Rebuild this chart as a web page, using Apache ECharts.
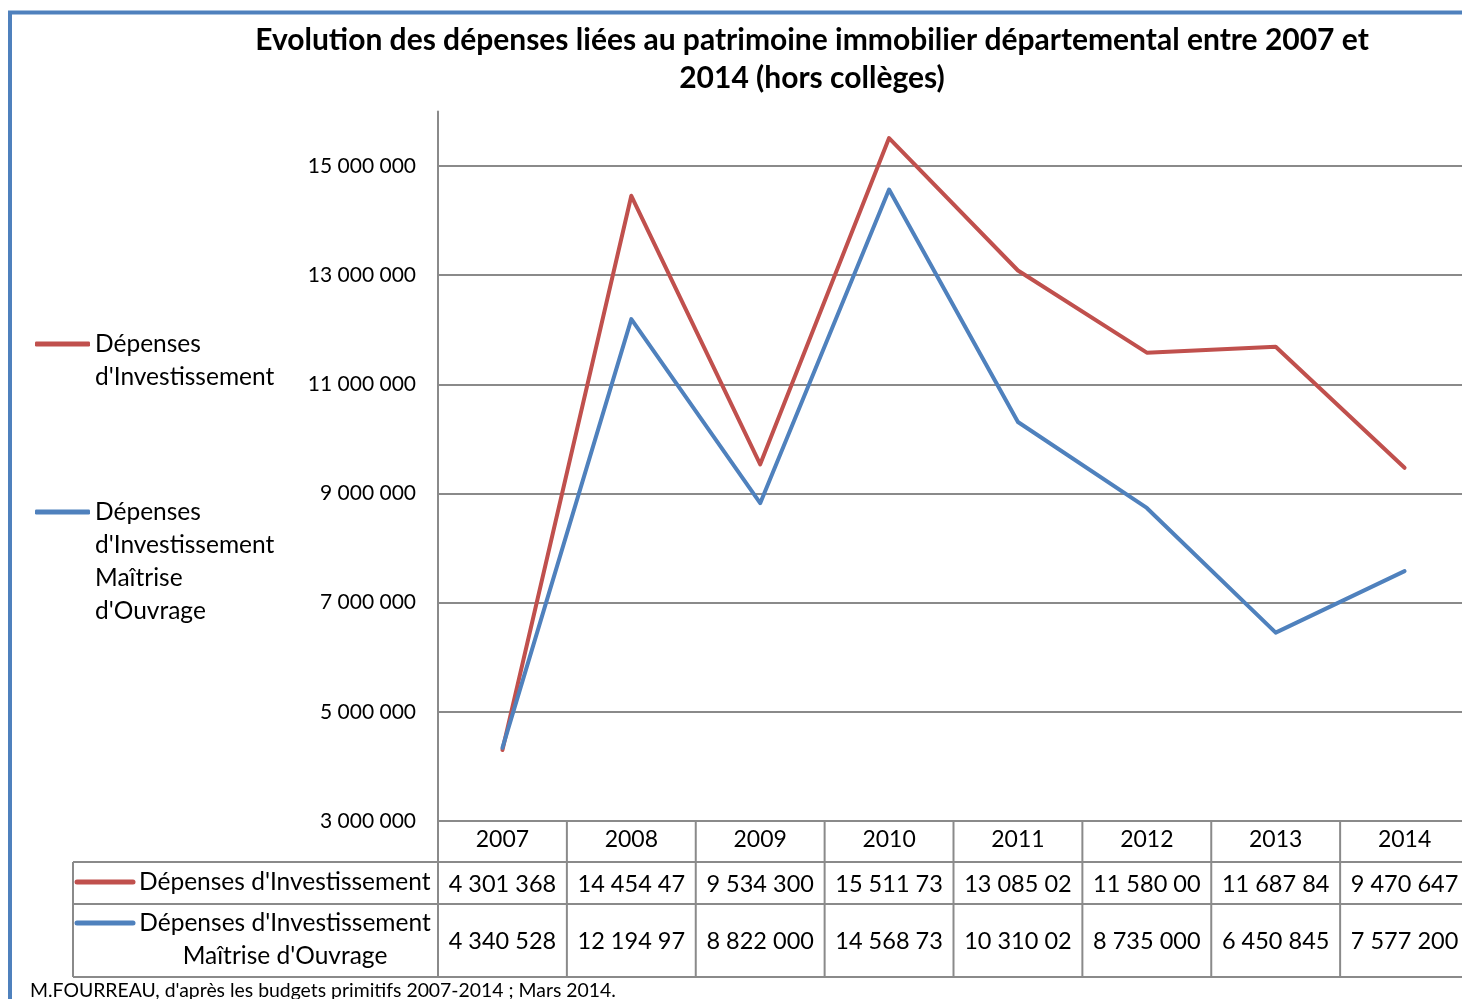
<!DOCTYPE html>
<html>
<head>
<meta charset="utf-8">
<script src="https://cdn.jsdelivr.net/npm/echarts@6/dist/echarts.min.js"></script>
<style>
  html, body { margin: 0; padding: 0; background: #fff; }
  #main { width: 1462px; height: 999px; }
</style>
</head>
<body>
<div id="main"></div>
<script>
// Dépenses patrimoine immobilier départemental 2007-2014
const YEARS = ['2007', '2008', '2009', '2010', '2011', '2012', '2013', '2014'];
const DEP_INVEST = [4301368, 14454470, 9534300, 15511730, 13085020, 11580000, 11687840, 9470647];
const DEP_MAITRISE = [4340528, 12194970, 8822000, 14568730, 10310020, 8735000, 6450845, 7577200];
const Y_TICKS = [5000000, 7000000, 9000000, 11000000, 13000000, 15000000];
const Y_LABELS = [3000000].concat(Y_TICKS);

const NAME_A = "Dépenses d'Investissement";
const NAME_B = "Dépenses d'Investissement Maîtrise d'Ouvrage";
const RED = '#c0504d';
const BLUE = '#4f81bd';
const GRID_GRAY = '#8a8a8a';
const FONT = 'Lato';

function fmt(v) {
  return String(v).replace(/\B(?=(\d{3})+(?!\d))/g, ' ');
}
// la cellule Excel coupe le texte trop long
function cell(v) {
  return fmt(v).slice(0, 9);
}

const chart = echarts.init(document.getElementById('main'));
chart.setOption({
  animation: false,
  textStyle: { fontFamily: FONT },
  title: {
    text: "Evolution des dépenses liées au patrimoine immobilier départemental entre 2007 et\n2014 (hors collèges)",
    left: 807,
    top: 16,
    textAlign: 'center',
    textStyle: { fontFamily: FONT, fontWeight: 'bold', fontSize: 30, lineHeight: 38, color: '#000' }
  },
  grid: { left: 438, top: 111.4, width: 1031, height: 709.6, outerBoundsMode: 'none' },
  legend: [
    {
      data: [NAME_A],
      left: 35, top: 294.5, padding: 0,
      icon: 'roundRect', itemWidth: 55, itemHeight: 5,
      // lignes vides en tête : le trait reste en face de la première ligne
      formatter: () => "\nDépenses\nd'Investissement",
      textStyle: { fontFamily: FONT, fontSize: 24.5, lineHeight: 33, color: '#000' }
    },
    {
      data: [NAME_B],
      left: 35, top: 396.5, padding: 0,
      icon: 'roundRect', itemWidth: 55, itemHeight: 5,
      formatter: () => "\n\n\nDépenses\nd'Investissement\nMaîtrise\nd'Ouvrage",
      textStyle: { fontFamily: FONT, fontSize: 24.5, lineHeight: 33, color: '#000' }
    }
  ],
  xAxis: {
    type: 'category',
    data: YEARS,
    axisLine: { lineStyle: { color: GRID_GRAY, width: 2 } },
    axisTick: { length: 41, lineStyle: { color: GRID_GRAY, width: 2 } },
    axisLabel: { margin: 7, fontSize: 23, color: '#000', fontFamily: FONT }
  },
  yAxis: {
    type: 'value',
    min: 3000000,
    max: 16000000,
    axisLine: { show: true, lineStyle: { color: GRID_GRAY, width: 2 } },
    axisTick: { show: false, customValues: Y_TICKS },
    axisLabel: { customValues: Y_LABELS, formatter: fmt, margin: 22, fontSize: 21, color: '#000', fontFamily: FONT },
    splitLine: { lineStyle: { color: GRID_GRAY, width: 2 } }
  },
  series: [
    {
      name: NAME_A, type: 'line', data: DEP_INVEST, symbol: 'none',
      itemStyle: { color: RED }, lineStyle: { color: RED, width: 4, cap: 'round', join: 'round' }
    },
    {
      name: NAME_B, type: 'line', data: DEP_MAITRISE, symbol: 'none',
      itemStyle: { color: BLUE }, lineStyle: { color: BLUE, width: 4, cap: 'round', join: 'round' }
    }
  ]
});

// tableau de données sous le graphique
const xs = YEARS.map((_, i) => chart.convertToPixel({ xAxisIndex: 0 }, i));
const step = xs[1] - xs[0];
const bounds = [xs[0] - step / 2].concat(xs.map(x => x + step / 2));
const right = bounds[bounds.length - 1];
const rowTop = 821, row1 = 862, row2 = 904, rowEnd = 977;
const lineStyle = { stroke: GRID_GRAY, lineWidth: 2 };

const els = [];
[row1, row2, rowEnd].forEach(y => {
  els.push({ type: 'line', shape: { x1: 73, y1: y, x2: right, y2: y }, style: lineStyle });
});
els.push({ type: 'line', shape: { x1: 73, y1: row1, x2: 73, y2: rowEnd }, style: lineStyle });
bounds.forEach(x => {
  els.push({ type: 'line', shape: { x1: x, y1: rowTop, x2: x, y2: rowEnd }, style: lineStyle });
});
xs.forEach((x, i) => {
  els.push({ type: 'text', x: x, y: (row1 + row2) / 2 + 1,
    style: { text: cell(DEP_INVEST[i]), align: 'center', verticalAlign: 'middle', font: '23.5px ' + FONT, fill: '#000' } });
  els.push({ type: 'text', x: x, y: (row2 + rowEnd) / 2 + 1,
    style: { text: cell(DEP_MAITRISE[i]), align: 'center', verticalAlign: 'middle', font: '23.5px ' + FONT, fill: '#000' } });
});
// étiquettes des lignes
els.push({ type: 'line', shape: { x1: 77, y1: 882, x2: 133, y2: 882 }, style: { stroke: RED, lineWidth: 5, lineCap: 'round' } });
els.push({ type: 'text', x: 139, y: 882,
  style: { text: NAME_A, align: 'left', verticalAlign: 'middle', font: '24.5px ' + FONT, fill: '#000' } });
els.push({ type: 'line', shape: { x1: 77, y1: 923, x2: 133, y2: 923 }, style: { stroke: BLUE, lineWidth: 5, lineCap: 'round' } });
els.push({ type: 'text', x: 285, y: 939.5,
  style: { text: "Dépenses d'Investissement\nMaîtrise d'Ouvrage", align: 'center', verticalAlign: 'middle',
    font: '24.5px ' + FONT, lineHeight: 33, fill: '#000' } });
// source
els.push({ type: 'text', x: 30, y: 991,
  style: { text: "M.FOURREAU, d'après les budgets primitifs 2007-2014 ; Mars 2014.", align: 'left', verticalAlign: 'middle',
    font: '19.4px ' + FONT, fill: '#000' } });
// cadre
els.push({ type: 'rect', shape: { x: 10, y: 12.5, width: 1500, height: 1100 },
  style: { fill: 'none', stroke: BLUE, lineWidth: 4 }, z: 100 });

chart.setOption({ graphic: { elements: els } });
window.addEventListener('resize', () => chart.resize());
</script>
</body>
</html>
